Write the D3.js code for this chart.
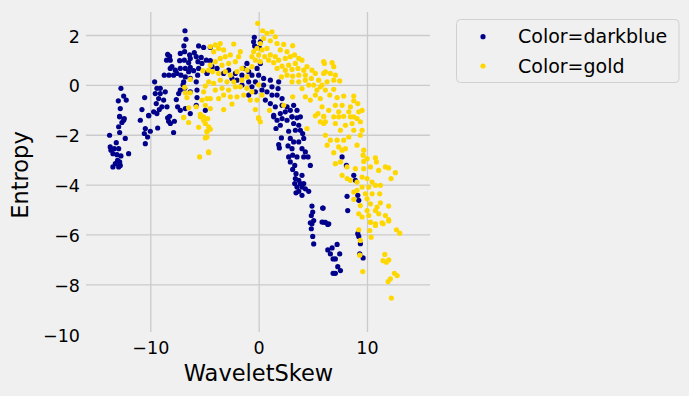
<!DOCTYPE html>
<html>
<head>
<meta charset="utf-8">
<script src="https://cdn.jsdelivr.net/npm/d3@7"></script>
<style>
  html, body { margin: 0; padding: 0; background: #f0f0f0; }
  svg { display: block; font-family: "DejaVu Sans", sans-serif; }
</style>
</head>
<body>
<div id="chart"></div>
<script>
// [WaveletSkew, Entropy]
const darkbluePoints = [
  [-6.8,2.17],[-6.71,1.83],[-6.9,1.56],[-5.54,1.56],[-5.08,1.5],[-8.4,1.22],[-8.22,1.15],[-8.5,0.99],[-8.16,0.99],
  [-7.23,1.26],[-6.83,1.33],[-6.37,1.2],[-5.94,1.29],[-5.76,1.13],[-5.3,1.1],[-4.83,0.99],
  [-7.29,0.97],[-6.86,0.99],[-6.46,0.89],[-6.31,1.06],[-5.6,0.93],[-5.23,0.86],
  [-8.0,0.73],[-8.16,0.66],[-7.69,0.59],[-7.23,0.66],[-6.77,0.66],[-6.31,0.7],[-6.46,0.53],[-6.0,0.57],[-5.54,0.66],[-5.63,0.39],[-4.77,0.49],
  [-8.71,0.39],[-8.28,0.39],[-7.85,0.39],[-7.54,0.46],[-7.17,0.39],[-6.77,0.32],[-6.31,0.26],[-6.92,0.12],[-5.76,0.12],
  [-9.6,0.12],[-9.39,-0.14],[-9.08,-0.14],[-9.54,-0.35],[-9.08,-0.35],[-8.62,-0.28],[-9.23,-0.55],[-8.77,-0.61],[-9.45,-0.75],[-8.93,-0.88],[-9.17,-0.99],[-9.39,-1.15],[-9.69,-1.08],[-10.15,-1.22],
  [-10.52,-0.51],[-10.77,-0.99],[-12.71,-0.14],[-12.46,-0.45],[-12.95,-0.64],[-12.22,-0.61],[-12.77,-0.95],[-12.83,-1.26],[-12.4,-1.35],
  [-8.46,-0.88],[-8.22,-1.26],[-7.6,-0.59],[-7.38,-0.35],[-7.23,-0.21],[-6.83,-0.14],[-6.31,-0.28],[-5.69,-0.21],[-6.98,0.0],[-7.48,-0.88],[-7.23,-1.02],[-6.77,-0.95],[-6.31,-1.15],[-5.69,-0.51],[-5.76,-0.82],[-4.92,-1.02],
  [-0.4,1.91],[-0.46,1.73],[-0.37,1.56],[0.16,1.73],[0.06,1.5],
  [-4.46,1.5],[-4.46,0.97],[-4.3,0.73],[-4.77,0.46],[-3.84,0.66],
  [-1.08,0.86],[-1.38,0.66],[-0.92,0.53],[-1.54,0.39],[-0.62,0.39],[-0.15,0.66],[0.16,0.86],[0.0,0.39],[0.46,0.26],[1.08,0.19],[0.46,-0.01],[1.23,-0.08],[-0.3,0.12],[-0.62,-0.08],[-0.92,0.12],[-1.54,-0.01],[-2.15,0.46],[-2.0,0.19],[-2.46,0.26],[-2.77,0.59],[-3.23,0.46],
  [-0.3,-0.28],[0.31,-0.21],[0.77,-0.28],[1.23,-0.41],[1.7,-0.41],[2.16,-0.55],[1.85,0.12],[1.79,-0.15],[-0.92,-0.41],[0.62,-0.61],[1.08,-0.75],[1.54,-0.88],[2.16,-0.82],[2.62,-0.88],[2.92,-1.02],[2.46,-1.08],[2.0,-1.15],[1.39,-1.22],[3.08,-1.28],[3.54,-1.02],[3.23,-0.82],
  [-12.83,-1.28],[-12.46,-1.42],[-12.62,-1.51],[-12.92,-1.68],[-12.83,-1.91],[-13.76,-2.02],[-12.31,-2.15],[-13.14,-2.32],[-13.7,-2.49],[-13.63,-2.62],[-13.32,-2.56],[-12.92,-2.56],[-13.45,-2.76],[-13.08,-2.8],[-12.71,-2.85],[-12.0,-2.76],[-13.02,-3.03],[-13.23,-3.16],[-12.77,-3.23],[-13.45,-3.29],[-12.92,-3.29],[-12.83,-3.09],
  [-10.92,-1.42],[-10.15,-1.24],[-10.46,-1.75],[-10.0,-1.86],[-10.55,-1.95],[-10.25,-2.09],[-10.46,-2.36],[-9.32,-1.73],[-8.4,-1.32],[-8.15,-1.55],[-8.31,-1.46],[-7.78,-1.46],[-7.85,-1.91],
  [1.39,-1.28],[1.7,-1.42],[2.16,-1.35],[2.62,-1.42],[3.08,-1.28],[3.54,-1.32],[3.85,-1.28],[3.23,-1.55],[3.7,-1.62],[2.0,-1.62],[1.6,-1.75],[2.77,-1.86],[3.39,-1.82],[3.85,-1.82],[4.06,-1.95],
  [2.1,-2.13],[2.92,-2.15],[3.23,-2.29],[3.7,-2.29],[4.16,-2.15],[1.85,-2.4],[1.91,-2.53],[2.71,-2.45],[3.08,-2.56],[4.0,-2.56],[4.31,-2.69],[4.56,-2.89],[4.16,-2.89],[2.77,-2.89],[3.14,-2.82],[3.54,-2.89],
  [2.92,-3.09],[3.33,-3.23],[3.14,-3.39],[3.45,-3.56],[4.0,-3.63],[3.39,-3.76],[3.7,-3.83],[3.33,-3.96],[3.85,-3.96],[4.16,-3.96],[3.54,-4.1],[4.0,-4.1],[4.31,-4.17],[3.7,-4.27],[3.45,-4.33],[4.0,-4.43],[4.77,-3.23],[4.62,-4.27],
  [4.92,-4.86],[4.99,-5.1],[4.86,-5.24],[5.08,-5.44],[4.77,-5.53],[5.91,-4.94],[6.0,-5.51],
  [7.7,-2.89],[8.1,-3.23],[8.78,-3.63],[8.93,-3.83],[8.16,-4.47],[9.15,-4.43],[9.24,-4.63],[8.22,-5.04],[5.95,-4.94],[6.16,-5.51],[6.47,-5.57],
  [4.92,-5.57],[4.86,-5.77],[4.99,-6.08],[5.08,-6.38],[5.85,-5.5],
  [6.38,-5.6],[9.15,-5.97],[9.24,-6.08],[9.39,-6.37],[9.33,-6.78],[9.64,-6.94],[7.24,-6.4],[6.78,-6.54],[6.38,-6.62],[6.62,-6.78],[7.48,-6.78],[6.87,-6.98],[7.08,-6.98],[7.3,-7.29],[7.55,-7.45],[7.08,-7.56],[6.87,-7.56]
];

const goldPoints = [
  [-6.31,0.22],[-5.14,0.57],[-4.62,0.59],[-6.83,-0.1],[-6.31,-0.32],[-6.62,-0.51],[-6.77,-0.32],[-4.92,-0.05],[-5.08,-0.28],[-4.77,-0.55],[-5.23,-0.61],[-4.92,-0.82],[-5.76,-0.88],[-6.46,-0.92],[-6.92,-1.31],[-5.38,-1.18],[-5.08,-1.28],[-4.71,-1.35],
  [-0.09,2.47],[0.37,2.17],[0.77,2.07],[1.23,2.13],[1.54,1.93],[0.46,1.86],[1.08,1.77],[1.7,1.66],[2.31,1.62],[3.14,1.57],[2.0,1.4],[2.62,1.33],
  [0.16,1.66],[-0.15,1.46],[0.31,1.4],[0.77,1.46],[-0.46,1.33],[0.0,1.2],[0.56,1.13],[1.08,1.2],[1.54,1.13],[-0.62,1.13],[-0.3,0.99],[0.16,0.93],[0.92,0.99],[1.39,0.89],[1.85,0.99],[2.46,1.06],[2.92,1.13],[3.32,1.2],[3.7,1.06],[4.0,0.99],
  [3.39,0.86],[2.77,0.79],[2.16,0.75],[1.7,0.66],[2.46,0.59],[3.08,0.62],[3.63,0.66],[4.16,0.59],[4.46,0.73],[4.92,0.59],[5.23,0.46],[6.0,0.46],[4.31,0.39],[3.7,0.39],[3.14,0.35],[2.62,0.39],[2.1,0.32],
  [3.08,0.12],[3.7,0.12],[4.31,0.19],[4.86,0.26],[5.54,0.19],[5.69,-0.08],[5.08,-0.01],[4.62,-0.01],[4.0,-0.15],[5.23,-0.41],[5.69,-0.55],
  [-4.46,1.53],[-4.0,1.6],[-3.54,1.66],[-3.69,1.46],[-3.23,1.4],[-4.15,1.33],[-2.3,1.64],[-2.61,1.2],[-3.08,1.13],[-3.54,1.06],[-1.85,1.13],[-1.69,1.33],[-2.15,0.93],[-2.77,0.86],[-3.38,0.79],[-4.0,0.93],[-4.46,0.79],
  [-4.24,0.53],[-3.69,0.46],[-3.08,0.53],[-2.61,0.39],[-2.0,0.53],[-1.54,0.66],[-1.08,0.59],[-0.62,0.73],[-1.08,0.32],[-1.54,0.19],[-2.3,0.12],[-2.92,0.12],[-3.54,0.19],[-4.15,0.06],[-4.61,0.12],
  [-4.0,-0.21],[-3.38,-0.14],[-2.77,-0.21],[-2.15,-0.08],[-1.69,-0.08],[-1.08,-0.14],[-0.62,-0.28],[0.0,0.0],[0.31,-0.41],[-0.15,-0.61],[-0.77,-0.61],[-1.38,-0.41],[-2.0,-0.48],[-2.61,-0.48],[-3.23,-0.41],[-3.69,-0.55],[-4.46,-0.55],
  [-4.46,-0.95],[-3.23,-0.99],[-2.46,-0.77],[-0.3,-0.99],[1.0,-1.02],[0.0,-1.31],[2.31,-0.82],[3.14,-0.48],[4.31,-0.48],[4.77,-0.61],[5.85,-0.88],[5.48,-1.15],[6.0,-1.28],[6.0,0.93],[5.38,-0.21],
  [6.07,0.86],[6.78,0.89],[6.93,0.73],[6.16,0.52],[6.62,0.46],[7.08,0.39],[7.48,0.16],[6.93,0.19],[6.32,0.12],[5.85,-0.01],[6.16,-0.21],[6.93,-0.18],[6.56,-0.41],[7.24,-0.51],[7.85,-0.45],[8.78,-0.45],[8.78,-0.64],[9.15,-0.75],
  [8.47,-0.88],[7.7,-0.82],[7.08,-0.82],[6.47,-1.02],[7.39,-1.08],[8.32,-1.08],[9.24,-1.08],[9.55,-1.02],[6.01,-1.26],[6.93,-1.28],[7.85,-1.26],[8.78,-1.28],
  [-6.92,-1.3],[-6.46,-1.51],[-5.54,-1.7],[-5.08,-1.42],[-4.77,-1.86],[-4.92,-2.13],[-4.62,-2.69],[-5.45,-2.89],[-5.38,-1.28],[-4.92,-1.55],
  [0.0,-1.35],[0.16,-1.48],[-4.61,-2.72],[-4.77,-1.89],[-4.61,-1.68],[-4.77,-2.09],[-4.46,-1.78],[4.46,-1.75],[5.23,-1.24],[5.69,-1.48],[6.0,-1.55],
  [7.39,-1.28],[8.47,-1.28],[9.08,-1.35],[9.39,-1.48],[8.62,-1.55],[8.01,-1.62],[7.55,-1.82],[7.08,-1.55],[6.16,-1.48],[8.78,-1.82],[9.55,-1.82],[9.39,-2.02],[8.32,-2.09],[7.85,-2.22],[7.24,-2.22],[6.62,-2.22],[6.16,-2.02],
  [6.32,-2.42],[7.39,-2.49],[8.01,-2.56],[9.08,-2.42],[7.7,-2.62],[9.7,-2.62],[6.93,-2.72],[9.64,-2.82],[10.01,-2.96],[9.7,-3.07],[10.78,-2.93],[10.87,-3.09],[7.08,-3.16],[7.55,-3.09],
  [8.16,-3.29],[8.93,-3.36],[9.7,-3.36],[10.32,-3.29],[11.08,-3.43],[11.7,-3.29],[12.0,-3.33],[12.62,-3.52],[12.22,-3.76],[7.7,-3.63],[8.16,-3.76],[8.47,-3.83],[9.08,-3.9],[9.55,-3.7],[10.01,-3.76],
  [10.47,-3.9],[10.78,-4.03],[11.24,-4.03],[10.16,-4.1],[9.55,-4.1],[9.08,-4.23],[8.78,-4.3],[9.85,-4.37],[10.47,-4.37],[11.17,-4.37],[10.01,-4.57],[8.78,-4.59],[9.39,-4.84],[10.32,-4.77],[10.93,-4.9],[11.24,-4.73],[12.0,-4.86],
  [10.01,-5.04],[10.78,-5.04],[9.24,-5.17],[9.55,-5.3],[10.16,-5.24],[11.08,-5.17],[11.7,-5.24],[12.0,-5.4],[10.32,-5.51],[11.39,-5.53],[10.78,-5.57],
  [9.24,-5.81],[10.32,-5.5],[10.25,-5.84],[10.38,-6.11],[10.78,-5.64],[11.48,-5.57],[12.01,-5.46],[12.72,-5.81],[13.02,-5.95],[9.39,-6.24],[9.33,-6.83],[11.64,-6.8],[11.48,-7.05],[12.01,-7.02],[11.79,-7.11],
  [9.61,-7.49],[12.53,-7.56],[12.78,-7.65],[12.16,-7.78],[11.95,-7.89],[12.25,-8.55]
];

const xTicks = [-10, 0, 10];
const yTicks = [2, 0, -2, -4, -6, -8, -10];
const series = [
  { label: "Color=darkblue", color: "darkblue", points: darkbluePoints },
  { label: "Color=gold", color: "gold", points: goldPoints }
];

const width = 689, height = 396;
const plotLeft = 86, plotRight = 430, plotTop = 12, plotBottom = 332;

const svg = d3.select("#chart").append("svg")
  .attr("width", width)
  .attr("height", height);

svg.append("rect")
  .attr("width", width)
  .attr("height", height)
  .attr("fill", "#f0f0f0");

const x = d3.scaleLinear().domain([-10, 10]).range([150.3, 367]);
const y = d3.scaleLinear().domain([-10, 2]).range([334.2, 35]);

// x grid + labels
const xAxis = svg.append("g")
  .attr("transform", "translate(0," + plotBottom + ")")
  .call(d3.axisBottom(x).tickValues(xTicks).tickSize(-(plotBottom - plotTop)).tickPadding(9.6).tickFormat(d => d < 0 ? "\u2212" + Math.abs(d) : d));
xAxis.select(".domain").remove();
xAxis.selectAll("line").attr("stroke", "#cbcbcb").attr("stroke-width", 1.3);
xAxis.selectAll("text").attr("fill", "#000").style("font-size", "17.5px").style("font-family", "DejaVu Sans");

// y grid + labels
const yAxis = svg.append("g")
  .attr("transform", "translate(" + plotLeft + ",0)")
  .call(d3.axisLeft(y).tickValues(yTicks).tickSize(-(plotRight - plotLeft)).tickPadding(6).tickFormat(d => d < 0 ? "\u2212" + Math.abs(d) : d));
yAxis.select(".domain").remove();
yAxis.selectAll("line").attr("stroke", "#cbcbcb").attr("stroke-width", 1.3)
  .filter(d => y(d) > plotBottom).remove();
yAxis.selectAll("text").attr("fill", "#000").attr("dy", "0.4em").style("font-size", "17.5px").style("font-family", "DejaVu Sans");

// points
series.forEach(s => {
  svg.append("g").selectAll("circle")
    .data(s.points)
    .enter().append("circle")
    .attr("cx", d => x(d[0]))
    .attr("cy", d => y(d[1]))
    .attr("r", 2.6)
    .attr("fill", s.color);
});

// axis labels
svg.append("text")
  .attr("x", 258.5)
  .attr("y", 381)
  .attr("text-anchor", "middle")
  .style("font-size", "22.5px")
  .text("WaveletSkew");

svg.append("text")
  .attr("transform", "translate(28,175)rotate(-90)")
  .attr("text-anchor", "middle")
  .style("font-size", "22.5px")
  .text("Entropy");

// legend
const legend = svg.append("g");
legend.append("rect")
  .attr("x", 456.5)
  .attr("y", 19.5)
  .attr("width", 222.5)
  .attr("height", 63)
  .attr("rx", 4)
  .attr("fill", "#f0f0f0")
  .attr("stroke", "#d0d0d0");

series.forEach((s, i) => {
  const cy = 36.7 + i * 29.3;
  legend.append("circle")
    .attr("cx", 483)
    .attr("cy", cy)
    .attr("r", 2.6)
    .attr("fill", s.color);
  legend.append("text")
    .attr("x", 518)
    .attr("y", cy + 6.5)
    .style("font-size", "19px")
    .text(s.label);
});
</script>
</body>
</html>
